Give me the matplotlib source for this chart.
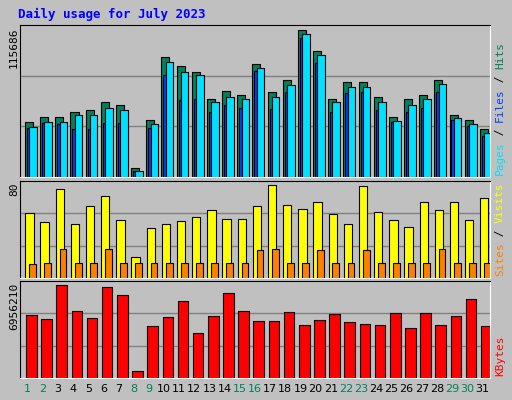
import matplotlib

matplotlib.use("Agg")

import matplotlib.pyplot as plt
import numpy as np

days = list(range(1, 32))
weekend_days = [1, 2, 8, 9, 15, 16, 22, 23, 29, 30]

hits = [43350, 47060, 47060, 51560, 52880, 59160, 56660, 7100, 44600, 94300,
        87400, 83000, 61360, 67650, 64480, 89120, 66950, 76370, 115686, 99060,
        61360, 74800, 74800, 63150, 47060, 61360, 64480, 76370, 48940, 44600, 37770]
files = [39600, 43350, 43350, 48940, 48940, 53970, 52650, 5000, 41750, 90450,
         82700, 80150, 58840, 63150, 61360, 86000, 63150, 72600, 112850, 95900,
         58840, 71230, 71230, 58840, 44450, 56700, 61360, 73200, 46860, 41750, 34300]
pages = [38700, 42500, 41900, 37800, 37800, 42900, 42300, 5000, 38700, 80000,
         60600, 61200, 51000, 56700, 54100, 83700, 53550, 67250, 109600, 89700,
         51000, 65800, 67250, 52700, 43500, 51500, 54100, 67250, 44800, 40300, 32600]
visits = [56, 48, 76, 46, 62, 70, 50, 18, 43, 46, 49, 52, 58, 51, 51, 62, 80, 63,
          59, 65, 55, 46, 79, 57, 50, 44, 65, 58, 65, 50, 69]
sites = [12, 12.5, 25, 12.5, 12.5, 25, 12.5, 12.5, 12.5, 13, 12.5, 12.5, 12.5,
         12.5, 12.5, 24, 25, 12.5, 12.5, 24, 12.5, 12.5, 24, 12.5, 12.5, 12.5,
         12.5, 25, 12.5, 12.5, 12.5]
kbytes = [4695000, 4390000, 6956210, 4999000, 4467000, 6804000, 6195000, 558000,
          3858000, 4543000, 5741000, 3350000, 4619000, 6347000, 4999000, 4238000,
          4238000, 4924000, 3934000, 4315000, 4771000, 4162000, 4010000, 3934000,
          4848000, 3706000, 4848000, 3934000, 4619000, 5893000, 3858000]

BG = "#C0C0C0"
W, H = 512, 400


def px_axes(fig, x0, y0, x1, y1, top):
    """Create axes from pixel box (top-left origin)."""
    ax = fig.add_axes([x0 / W, 1 - y1 / H, (x1 - x0) / W, (y1 - y0) / H])
    ax.set_facecolor(BG)
    ax.set_xlim(0.5, 31.5)
    ax.set_ylim(0, top)
    ax.set_xticks([])
    ax.set_yticks([])
    for side in ("left", "top"):
        ax.spines[side].set_color("black")
    for side in ("right", "bottom"):
        ax.spines[side].set_color("white")
    for frac in (1 / 3, 2 / 3):
        ax.axhline(frac * top, color="#808080", linewidth=1, zorder=0)
    return ax


fig = plt.figure(figsize=(W / 100, H / 100), dpi=100, facecolor=BG)
x = np.array(days, dtype=float)
kw = dict(align="edge", edgecolor="black", linewidth=0.8)

ax1 = px_axes(fig, 20, 25, 490, 177, max(hits) * 1.035)
ax1.bar(x - 0.17, hits, 0.53, color="#00805C", **kw)
ax1.bar(x - 0.04, pages, 0.2, color="#0040FF", **kw)
ax1.bar(x + 0.11, files, 0.5, color="#00E0FF", **kw)

ax2 = px_axes(fig, 20, 181, 490, 278, max(visits) * 1.04)
ax2.bar(x - 0.15, visits, 0.55, color="#FFFF00", **kw)
ax2.bar(x + 0.11, sites, 0.45, color="#FF8000", **kw)

ax3 = px_axes(fig, 20, 281, 490, 378, max(kbytes) * 1.04)
ax3.bar(x - 0.1, kbytes, 0.7, color="#FF0000", **kw)

fig.text(18 / W, 1 - 14 / H, "Daily usage for July 2023", color="#0000FF",
         fontsize=9, fontweight="bold", family="DejaVu Sans Mono", va="center")

for label, ytop in (("115686", 28), ("80", 183), ("6956210", 283)):
    fig.text(14 / W, 1 - ytop / H, label, rotation=90, fontsize=8,
             family="DejaVu Sans Mono", ha="center", va="top")


def side_label(parts, ybottom):
    y = 1 - ybottom / H
    for text, color in parts:
        fig.text(500 / W, y, text, rotation=90, fontsize=8, color=color,
                 family="DejaVu Sans Mono", ha="center", va="bottom")
        y += len(text) * 6.6 / H


side_label([("Pages", "#00E0FF"), (" / ", "black"), ("Files", "#0040FF"),
            (" / ", "black"), ("Hits", "#00805C")], 175)
side_label([("Sites", "#FF8000"), (" / ", "black"), ("Visits", "#FFFF00")], 276)
side_label([("KBytes", "#FF0000")], 376)

for d in days:
    xp = 20 + (d - 0.5) / 31 * 470
    fig.text(xp / W, 1 - 389 / H, str(d), fontsize=8, ha="center", va="center",
             color="#00805C" if d in weekend_days else "black")

fig.savefig("out.png", dpi=100, facecolor=BG)
